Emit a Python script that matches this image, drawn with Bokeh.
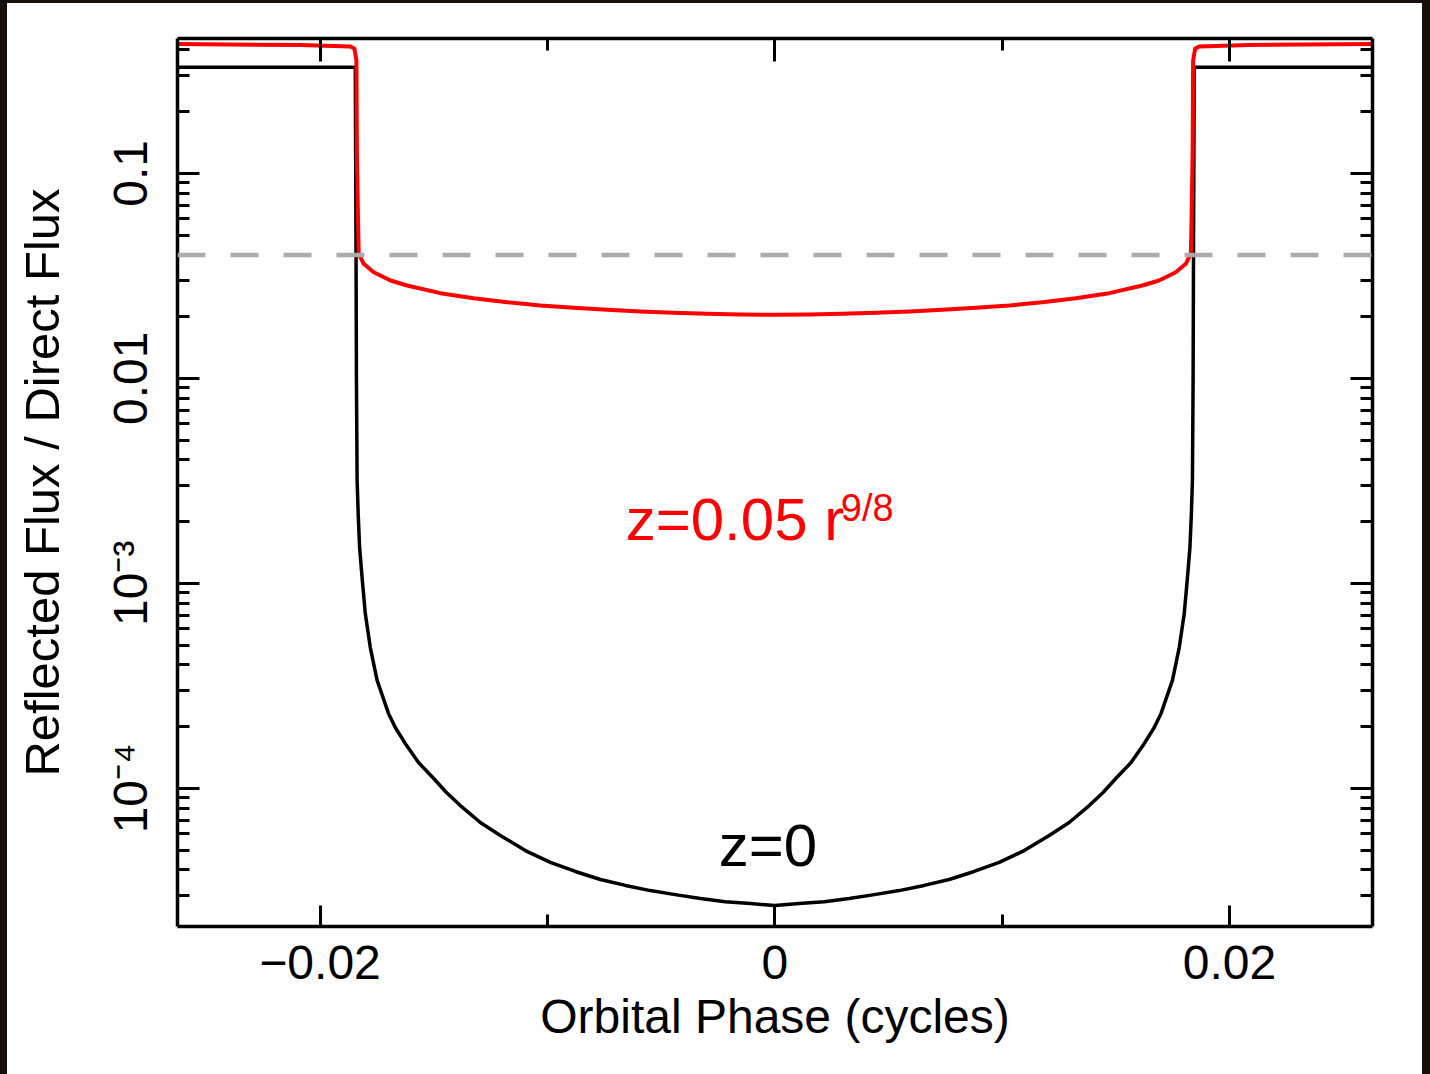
from bokeh.plotting import figure
from bokeh.models import (Range1d, FixedTicker, LinearAxis, LogAxis, Span, Label,
                          CustomJSTickFormatter, Spacer)
from bokeh.layouts import row, column
from bokeh.embed import file_html
from bokeh.resources import INLINE

# ---------------- data ----------------
phase_z0 = [-0.02627, -0.01845, -0.01842, -0.01840, -0.01837, -0.01832, -0.01826,
            -0.01814, -0.01801, -0.01779, -0.01749, -0.01699, -0.01669, -0.01620,
            -0.01567, -0.01501, -0.01444, -0.01383, -0.01295, -0.01207, -0.01097,
            -0.00987, -0.00877, -0.00767, -0.00657, -0.00547, -0.00438, -0.00327,
            -0.00218, -0.00107, 0.0,
            0.00107, 0.00218, 0.00327, 0.00438, 0.00547, 0.00657, 0.00767,
            0.00877, 0.00987, 0.01097, 0.01207, 0.01295, 0.01383, 0.01444,
            0.01501, 0.01567, 0.01620, 0.01669, 0.01699, 0.01749, 0.01779,
            0.01801, 0.01814, 0.01826, 0.01832, 0.01837, 0.01840, 0.01842,
            0.01845, 0.02629]
ratio_z0 = [0.329, 0.329, 0.05, 0.0100, 3.17e-3, 2.14e-3, 1.495e-3,
            1.032e-3, 7.12e-4, 4.86e-4, 3.36e-4, 2.32e-4, 1.98e-4, 1.62e-4,
            1.336e-4, 1.12e-4, 9.54e-5, 8.24e-5, 6.81e-5, 5.89e-5, 4.97e-5,
            4.35e-5, 3.93e-5, 3.59e-5, 3.36e-5, 3.17e-5, 3.03e-5, 2.90e-5,
            2.80e-5, 2.74e-5, 2.68e-5,
            2.74e-5, 2.80e-5, 2.90e-5, 3.03e-5, 3.17e-5, 3.36e-5, 3.59e-5,
            3.93e-5, 4.35e-5, 4.97e-5, 5.89e-5, 6.81e-5, 8.24e-5, 9.54e-5,
            1.12e-4, 1.336e-4, 1.62e-4, 1.98e-4, 2.32e-4, 3.36e-4, 4.86e-4,
            7.12e-4, 1.032e-3, 1.495e-3, 2.14e-3, 3.17e-3, 0.0100, 0.05,
            0.329, 0.329]

phase_z005 = [-0.02627, -0.02086, -0.01867, -0.01849, -0.01840, -0.01838, -0.01833,
              -0.01830, -0.01808, -0.01764, -0.01690, -0.01617, -0.01471, -0.01324,
              -0.01177, -0.01031, -0.00884, -0.00737, -0.00591, -0.00444, -0.00297,
              -0.00151, 0.0,
              0.00151, 0.00297, 0.00444, 0.00591, 0.00737, 0.00884, 0.01031,
              0.01177, 0.01324, 0.01471, 0.01617, 0.01690, 0.01764, 0.01808,
              0.01830, 0.01833, 0.01838, 0.01840, 0.01849, 0.01867,
              0.02086, 0.02629]
ratio_z005 = [0.427, 0.4225, 0.4153, 0.406, 0.355, 0.129, 0.0588,
              0.0406, 0.03618, 0.03293, 0.03000, 0.02836, 0.02602, 0.02458,
              0.02350, 0.02265, 0.02208, 0.02159, 0.02118, 0.02087, 0.02064,
              0.02047, 0.02040,
              0.02047, 0.02064, 0.02087, 0.02118, 0.02159, 0.02208, 0.02265,
              0.02350, 0.02458, 0.02602, 0.02836, 0.03000, 0.03293, 0.03618,
              0.0406, 0.0588, 0.129, 0.355, 0.406, 0.4153,
              0.4225, 0.427]

threshold = 0.04

x_tick_values = [-0.02, 0.0, 0.02]
x_tick_labels = ["\u22120.02", "0", "0.02"]
x_minor_values = [-0.01, 0.01]
y_tick_values = [1e-4, 1e-3, 1e-2, 1e-1]
y_tick_labels = ["10\u207b\u2074", "10\u207b\u00b3", "0.01", "0.1"]

x_label = "Orbital Phase (cycles)"
y_label = "Reflected Flux / Direct Flux"

FONT = "Liberation Sans"

y_minor_values = [k * 10.0 ** e for e in range(-5, 0) for k in range(2, 10)]

p = figure(width=1415, height=1071,
           x_range=Range1d(-0.02627, 0.02629),
           y_range=Range1d(2.118e-5, 0.4546),
           y_axis_type="log",
           output_backend="svg", toolbar_location=None,
           min_border_left=170, min_border_right=50,
           min_border_top=35, min_border_bottom=148)
p.grid.visible = False
p.outline_line_color = None
p.background_fill_color = "white"
p.border_fill_color = "white"

xt = FixedTicker(ticks=x_tick_values, minor_ticks=x_minor_values)
yt = FixedTicker(ticks=y_tick_values, minor_ticks=y_minor_values)


def style_axis(ax, major_len, minor_len):
    ax.axis_line_color = "black"
    ax.axis_line_width = 3.5
    ax.major_tick_line_color = "black"
    ax.major_tick_line_width = 3
    ax.minor_tick_line_color = "black"
    ax.minor_tick_line_width = 3
    ax.major_tick_in = major_len
    ax.major_tick_out = 0
    ax.minor_tick_in = minor_len
    ax.minor_tick_out = 0
    ax.major_label_text_font = FONT
    ax.major_label_text_font_size = "48px"
    ax.major_label_text_color = "black"
    ax.axis_label_text_font = FONT
    ax.axis_label_text_font_size = "48px"
    ax.axis_label_text_font_style = "normal"
    ax.axis_label_text_color = "black"


xa = p.xaxis[0]
xa.ticker = xt
style_axis(xa, 21, 12)
xa.major_label_overrides = dict(zip(x_tick_values, x_tick_labels))
xa.major_label_standoff = 19
xa.axis_label = x_label
xa.axis_label_standoff = 8

ya = p.yaxis[0]
ya.ticker = yt
style_axis(ya, 22, 12)
ya.major_label_overrides = dict(zip(y_tick_values, y_tick_labels))
ya.major_label_orientation = "vertical"
ya.major_label_standoff = 20
ya.axis_label = y_label
ya.axis_label_text_font_size = "49px"
ya.axis_label_standoff = 33

blank = CustomJSTickFormatter(code="return '';")
top = LinearAxis(ticker=xt, formatter=blank)
style_axis(top, 23, 12)
top.major_label_text_font_size = "1px"
top.major_label_standoff = 0
p.add_layout(top, "above")

right = LogAxis(ticker=yt, formatter=blank)
style_axis(right, 22, 12)
right.major_label_text_font_size = "1px"
right.major_label_standoff = 0
p.add_layout(right, "right")

p.line(phase_z0, ratio_z0, line_color="black", line_width=3.5, line_join="round")
p.add_layout(Span(location=threshold, dimension="width", line_color="#ababab",
                  line_width=4.5, line_dash="28 25"))
p.line(phase_z005, ratio_z005, line_color="#ff0000", line_width=4, line_join="round")

p.add_layout(Label(x=-0.006557, y=2.045e-3, text="z=0.05 r", text_color="#ff0000",
                   text_font=FONT, text_font_size="60px", text_baseline="alphabetic",
                   text_align="left"))
p.add_layout(Label(x=0.002904, y=2.34e-3, text="9/8", text_color="#ff0000",
                   text_font=FONT, text_font_size="38px", text_baseline="alphabetic",
                   text_align="left"))
p.add_layout(Label(x=-0.002464, y=5.25e-5, text="z=0", text_color="black",
                   text_font=FONT, text_font_size="60px", text_baseline="alphabetic",
                   text_align="left"))

DARK = "#16110d"
top_strip = Spacer(width=1430, height=3, styles={"background-color": DARK})
left_strip = Spacer(width=7, height=1071, styles={"background-color": DARK})
right_strip = Spacer(width=8, height=1071, styles={"background-color": DARK})
layout = column(top_strip, row(left_strip, p, right_strip, spacing=0), spacing=0)

open("out.html", "w").write(file_html(layout, INLINE))
